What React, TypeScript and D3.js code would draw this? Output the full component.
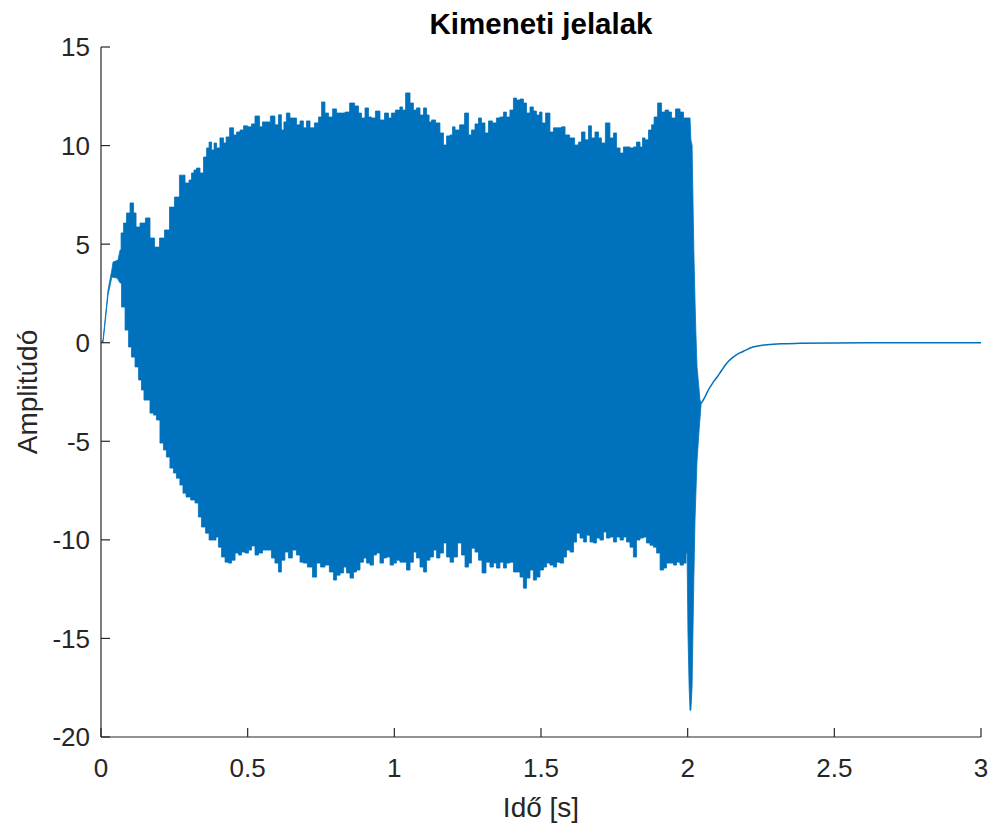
import React from "react";
import * as d3 from "d3";

const title = "Kimeneti jelalak";
const xLabel = "Idő [s]";
const yLabel = "Amplitúdó";
const xTicks = [0, 0.5, 1, 1.5, 2, 2.5, 3];
const yTicks = [15, 10, 5, 0, -5, -10, -15, -20];

// upper envelope of the dense oscillation [time s, amplitude]
const upperEnvelope: [number, number][] = [
  [0, 0], [0.007, 0.14], [0.024, 2.67], [0.037, 3.69], [0.041, 4.09], [0.058, 4.19], [0.065, 4.7],
  [0.072, 5.57], [0.082, 6.07], [0.092, 6.58], [0.106, 7.09], [0.116, 6.58], [0.123, 5.87],
  [0.143, 6.07], [0.16, 6.33], [0.174, 5.31], [0.191, 4.85], [0.208, 5.31], [0.225, 5.72],
  [0.242, 6.88], [0.259, 7.39], [0.276, 8.5], [0.297, 8.1], [0.303, 8.25], [0.314, 8.61],
  [0.32, 8.76], [0.331, 8.86], [0.344, 8.61], [0.355, 9.42], [0.365, 9.88], [0.372, 10.18],
  [0.382, 9.78], [0.389, 10.13], [0.399, 9.88], [0.412, 10.39], [0.423, 10.13], [0.43, 10.44],
  [0.447, 10.9], [0.457, 10.54], [0.467, 10.69], [0.481, 10.79], [0.491, 11.0], [0.508, 10.95],
  [0.518, 11.1], [0.532, 11.5], [0.549, 10.95], [0.552, 11.2], [0.569, 11.2], [0.586, 11.5],
  [0.6, 11.05], [0.61, 11.56], [0.62, 10.79], [0.627, 11.2], [0.637, 11.65], [0.651, 11.4],
  [0.661, 11.4], [0.672, 11.05], [0.685, 11.25], [0.695, 10.9], [0.706, 11.25], [0.719, 10.9],
  [0.736, 11.15], [0.747, 11.45], [0.757, 12.21], [0.77, 11.65], [0.781, 11.45], [0.798, 11.86],
  [0.808, 11.65], [0.825, 11.65], [0.839, 11.7], [0.856, 12.16], [0.873, 12.01], [0.883, 11.65],
  [0.893, 11.4], [0.907, 11.91], [0.917, 11.45], [0.927, 11.4], [0.944, 11.75], [0.958, 11.3],
  [0.975, 11.65], [0.985, 11.4], [0.995, 11.65], [1.012, 11.8], [1.026, 11.96], [1.03, 11.8],
  [1.047, 12.67], [1.06, 12.16], [1.07, 11.8], [1.081, 11.91], [1.094, 11.55], [1.105, 11.91],
  [1.115, 11.55], [1.122, 11.2], [1.132, 11.3], [1.149, 11.15], [1.162, 10.64], [1.173, 10.03],
  [1.183, 10.49], [1.197, 10.54], [1.2, 10.95], [1.214, 10.79], [1.231, 11.05], [1.248, 11.65],
  [1.258, 10.54], [1.268, 10.79], [1.282, 11.1], [1.292, 11.4], [1.302, 11.15], [1.316, 10.64],
  [1.326, 11.25], [1.343, 11.15], [1.353, 11.4], [1.367, 11.45], [1.377, 11.7], [1.387, 11.45],
  [1.401, 11.8], [1.411, 12.41], [1.422, 12.31], [1.435, 12.36], [1.445, 12.16], [1.456, 11.65],
  [1.469, 11.96], [1.479, 11.75], [1.49, 11.55], [1.5, 11.7], [1.507, 11.15], [1.524, 11.65],
  [1.537, 10.69], [1.548, 10.9], [1.565, 10.9], [1.575, 10.95], [1.589, 10.54], [1.606, 10.39],
  [1.623, 10.03], [1.633, 10.18], [1.643, 10.69], [1.657, 10.29], [1.667, 11.0], [1.677, 10.39],
  [1.691, 10.69], [1.701, 10.39], [1.711, 10.13], [1.728, 11.15], [1.742, 10.39], [1.752, 10.64],
  [1.763, 9.88], [1.776, 9.62], [1.786, 9.93], [1.797, 9.93], [1.81, 9.88], [1.82, 9.93],
  [1.831, 10.18], [1.844, 9.93], [1.848, 10.39], [1.861, 10.29], [1.872, 10.79], [1.882, 11.05],
  [1.889, 11.45], [1.906, 12.16], [1.916, 11.7], [1.93, 11.8], [1.94, 11.7], [1.95, 11.4],
  [1.967, 11.86], [1.981, 11.7], [1.991, 11.4], [2.001, 11.4], [2.008, 11.4], [2.011, 10.28],
  [2.015, 10.02], [2.021, 4.7], [2.025, 2.16], [2.028, 0.5], [2.032, -1.24], [2.042, -2.9],
  [2.046, -3.08],
];

// lower envelope of the dense oscillation [time s, amplitude]
const lowerEnvelope: [number, number][] = [
  [0, 0], [0.007, 0.04], [0.024, 2.42], [0.037, 3.33], [0.055, 3.28], [0.065, 3.03], [0.075, 1.81],
  [0.089, 0.64], [0.099, -0.22], [0.109, -0.73], [0.123, -1.23], [0.133, -1.89], [0.143, -2.4],
  [0.15, -2.91], [0.16, -2.91], [0.174, -3.57], [0.184, -3.67], [0.194, -3.92], [0.208, -5.09],
  [0.218, -5.44], [0.228, -5.8], [0.242, -6.36], [0.252, -6.61], [0.262, -6.87], [0.276, -7.22],
  [0.283, -7.63], [0.297, -7.83], [0.314, -7.98], [0.327, -8.13], [0.337, -8.84], [0.348, -9.35],
  [0.365, -9.66], [0.372, -10.01], [0.389, -10.01], [0.395, -9.86], [0.406, -10.37], [0.416, -10.87],
  [0.43, -11.13], [0.44, -11.18], [0.45, -11.03], [0.464, -10.67], [0.474, -10.77], [0.484, -10.62],
  [0.498, -10.67], [0.508, -10.52], [0.518, -10.31], [0.532, -10.77], [0.542, -10.67], [0.559, -10.52],
  [0.576, -10.52], [0.586, -10.92], [0.6, -11.18], [0.61, -11.63], [0.62, -11.03], [0.634, -10.62],
  [0.644, -10.92], [0.661, -10.52], [0.672, -10.77], [0.685, -11.13], [0.695, -11.18], [0.712, -11.38],
  [0.73, -11.89], [0.74, -11.18], [0.757, -11.38], [0.77, -11.28], [0.787, -11.63], [0.798, -12.04],
  [0.808, -11.79], [0.822, -11.68], [0.832, -11.38], [0.842, -11.68], [0.856, -11.94], [0.866, -11.63],
  [0.876, -11.53], [0.89, -11.13], [0.9, -10.92], [0.91, -11.18], [0.924, -11.28], [0.934, -10.77],
  [0.944, -10.67], [0.958, -11.18], [0.968, -10.92], [0.979, -10.87], [0.992, -11.28], [1.002, -11.18],
  [1.012, -11.03], [1.026, -11.13], [1.036, -11.13], [1.047, -11.53], [1.06, -11.13], [1.07, -10.62],
  [1.081, -10.92], [1.094, -11.38], [1.105, -11.63], [1.115, -11.03], [1.128, -10.87], [1.139, -10.52],
  [1.149, -10.92], [1.162, -10.67], [1.173, -10.16], [1.183, -10.87], [1.197, -11.13], [1.207, -10.87],
  [1.224, -10.16], [1.234, -10.77], [1.248, -11.38], [1.258, -11.18], [1.268, -10.42], [1.282, -10.62],
  [1.292, -11.03], [1.306, -11.68], [1.319, -11.13], [1.333, -11.38], [1.343, -11.18], [1.353, -11.43],
  [1.367, -11.13], [1.377, -11.43], [1.387, -11.18], [1.401, -11.13], [1.411, -11.63], [1.422, -11.63],
  [1.435, -11.89], [1.445, -12.45], [1.456, -11.94], [1.469, -11.53], [1.479, -12.04], [1.49, -11.89],
  [1.503, -11.53], [1.514, -11.38], [1.524, -11.18], [1.537, -11.28], [1.548, -11.38], [1.558, -11.13],
  [1.572, -11.18], [1.582, -10.87], [1.592, -10.52], [1.606, -10.62], [1.616, -10.11], [1.626, -9.66],
  [1.64, -9.91], [1.65, -10.11], [1.66, -9.76], [1.674, -10.11], [1.684, -10.16], [1.694, -9.91],
  [1.708, -10.01], [1.718, -9.6], [1.728, -9.91], [1.742, -9.86], [1.752, -10.11], [1.763, -9.86],
  [1.776, -10.01], [1.786, -9.86], [1.797, -10.11], [1.81, -10.37], [1.82, -10.87], [1.831, -10.01],
  [1.844, -9.91], [1.854, -9.86], [1.865, -10.16], [1.878, -10.27], [1.889, -10.37], [1.899, -10.67],
  [1.913, -11.53], [1.923, -11.43], [1.933, -11.18], [1.947, -11.18], [1.957, -11.28], [1.967, -11.13],
  [1.981, -11.28], [1.991, -11.18], [1.998, -10.67], [2.001, -14.72], [2.005, -17.46], [2.008, -18.64],
  [2.011, -18.64], [2.015, -17.46], [2.018, -14.72], [2.021, -12.04], [2.025, -8.99], [2.032, -5.95],
  [2.039, -4.43], [2.046, -3.08],
];

// decaying tail after the excitation stops [time s, amplitude]
const decayTail: [number, number][] = [
  [2.046, -3.08], [2.06, -2.72], [2.07, -2.41], [2.085, -2.05], [2.1, -1.75], [2.115, -1.42],
  [2.128, -1.14], [2.14, -0.93], [2.155, -0.73], [2.17, -0.58], [2.185, -0.47], [2.2, -0.36],
  [2.213, -0.27], [2.24, -0.17], [2.271, -0.1], [2.32, -0.05], [2.383, -0.03], [2.5, -0.01],
  [2.7, 0], [3, 0],
];

const W = 991;
const H = 825;
const M = { left: 101, right: 10, top: 47, bottom: 88 };
const BLUE = "#0072BD";
const AX = "#262626";
const FONT = "'Liberation Sans', Arial, Helvetica, sans-serif";

export default function App() {
  const x = d3.scaleLinear().domain([0, 3]).range([M.left, W - M.right]);
  const y = d3.scaleLinear().domain([-20, 15]).range([H - M.bottom, M.top]);

  // jagged envelopes: steps for the oscillation body, linear for the thin start / end
  const stepLine = d3
    .line<[number, number]>()
    .x((d) => x(d[0]))
    .y((d) => y(d[1]))
    .curve(d3.curveStep);
  const plainLine = d3
    .line<[number, number]>()
    .x((d) => x(d[0]))
    .y((d) => y(d[1]));

  const split = (arr: [number, number][]) => {
    const head = arr.filter((d) => d[0] <= 0.065);
    const body = arr.filter((d) => d[0] >= 0.065 && d[0] <= 1.998);
    const tail = arr.filter((d) => d[0] >= 1.998);
    return { head, body, tail };
  };
  const up = split(upperEnvelope);
  const lo = split(lowerEnvelope);
  const toPts = (p: string) => p.replace(/^M/, "L");
  const bandPath =
    (plainLine(up.head) as string) +
    toPts(stepLine(up.body) as string) +
    toPts(plainLine(up.tail) as string) +
    toPts(plainLine(lo.tail.slice().reverse()) as string) +
    toPts(stepLine(lo.body.slice().reverse()) as string) +
    toPts(plainLine(lo.head.slice().reverse()) as string) +
    "Z";

  const tailPath = d3
    .line<[number, number]>()
    .x((d) => x(d[0]))
    .y((d) => y(d[1]))
    .curve(d3.curveMonotoneX)(decayTail) as string;

  const x0 = M.left;
  const yB = H - M.bottom;
  const tick = 9;

  return (
    <svg
      width={W}
      height={H}
      style={{ position: "absolute", left: 0, top: 0, background: "#fff" }}
      fontFamily={FONT}
    >
      <rect width={W} height={H} fill="#fff" />
      <path d={bandPath} fill={BLUE} stroke={BLUE} strokeWidth={0.8} strokeLinejoin="round" />
      <path d={tailPath} fill="none" stroke={BLUE} strokeWidth={1.5} />

      {/* axes */}
      <line x1={x0} x2={x0} y1={M.top} y2={yB} stroke={AX} strokeWidth={1.2} />
      <line x1={x0} x2={W - M.right} y1={yB} y2={yB} stroke={AX} strokeWidth={1.2} />
      {yTicks.map((t) => (
        <g key={"y" + t}>
          <line x1={x0} x2={x0 + tick} y1={y(t)} y2={y(t)} stroke={AX} strokeWidth={1.2} />
          <text x={x0 - 11} y={y(t)} dy="0.36em" textAnchor="end" fontSize={26} fill={AX}>
            {t}
          </text>
        </g>
      ))}
      {xTicks.map((t) => (
        <g key={"x" + t}>
          <line x1={x(t)} x2={x(t)} y1={yB} y2={yB - tick} stroke={AX} strokeWidth={1.2} />
          <text x={x(t)} y={777} textAnchor="middle" fontSize={26} fill={AX}>
            {t}
          </text>
        </g>
      ))}
      <text x={(x0 + W - M.right) / 2} y={817} textAnchor="middle" fontSize={28} fill={AX}>
        {xLabel}
      </text>
      <text
        transform={`translate(37, ${(M.top + yB) / 2}) rotate(-90)`}
        textAnchor="middle"
        fontSize={28}
        fill={AX}
      >
        {yLabel}
      </text>
      <text
        x={(x0 + W - M.right) / 2}
        y={34}
        textAnchor="middle"
        fontSize={29.5}
        fontWeight="bold"
        fill="#000"
      >
        {title}
      </text>
    </svg>
  );
}
